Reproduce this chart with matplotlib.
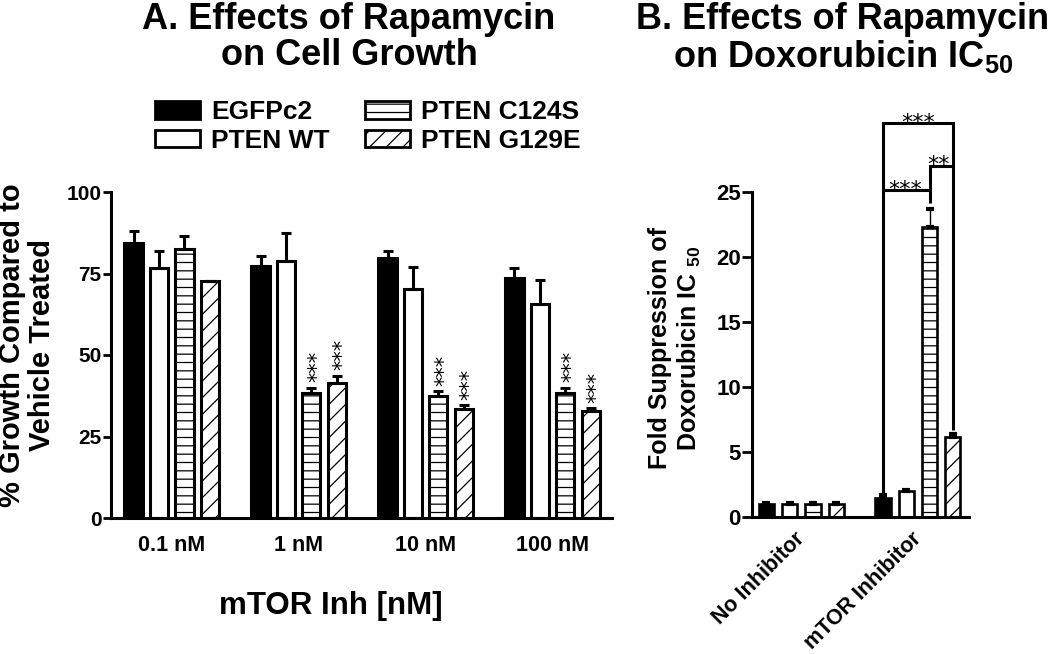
import numpy as np
import matplotlib
matplotlib.use('Agg')
import matplotlib.pyplot as plt
from matplotlib.patches import Patch

plt.rcParams['font.family'] = ['Liberation Sans', 'DejaVu Sans']
plt.rcParams['font.weight'] = 'bold'
plt.rcParams['axes.labelweight'] = 'bold'
plt.rcParams['mathtext.fontset'] = 'custom'
plt.rcParams['mathtext.rm'] = 'Liberation Sans:bold'
plt.rcParams['mathtext.it'] = 'Liberation Sans:bold'
plt.rcParams['mathtext.bf'] = 'Liberation Sans:bold'
plt.rcParams['hatch.linewidth'] = 0.9

# panel A data
concentrations = ['0.1 nM', '1 nM', '10 nM', '100 nM']
series = ['EGFPc2', 'PTEN WT', 'PTEN C124S', 'PTEN G129E']
growth_egfp = [84.5, 77.4, 79.7, 73.5]
growth_wt = [76.7, 78.8, 70.2, 65.6]
growth_c124s = [82.5, 38.2, 37.4, 38.4]
growth_g129e = [72.6, 41.3, 33.5, 32.8]
growth_err_egfp = [3.6, 3.0, 2.2, 3.1]
growth_err_wt = [5.1, 8.7, 6.7, 7.4]
growth_err_c124s = [4.0, 1.7, 1.5, 1.5]
growth_err_g129e = [0.0, 2.3, 1.1, 0.9]
growth_sig_c124s = ['', '***', '***', '***']
growth_sig_g129e = ['', '***', '***', '***']

# panel B data
conditions = ['No Inhibitor', 'mTOR Inhibitor']
fold_egfp = [0.95, 1.45]
fold_wt = [1.0, 1.95]
fold_c124s = [1.0, 22.3]
fold_g129e = [1.0, 6.1]
fold_err_egfp = [0.08, 0.2]
fold_err_wt = [0.05, 0.1]
fold_err_c124s = [0.05, 1.4]
fold_err_g129e = [0.05, 0.3]

styles = [dict(facecolor='black'),
          dict(facecolor='white'),
          dict(facecolor='white', hatch='--'),
          dict(facecolor='white', hatch='//')]

W, H = 1050, 654
fig = plt.figure(figsize=(W / 100, H / 100), dpi=100)


def px_axes(l, t, r, b):
    return fig.add_axes([l / W, 1 - b / H, (r - l) / W, (b - t) / H])


def style_axes(ax):
    for s in ['top', 'right']:
        ax.spines[s].set_visible(False)
    for s in ['left', 'bottom']:
        ax.spines[s].set_linewidth(2.2)


# ---------------- panel A ----------------
axA = px_axes(111, 192, 612, 518)
style_axes(axA)
group_gap = 5
vals_A = [growth_egfp, growth_wt, growth_c124s, growth_g129e]
errs_A = [growth_err_egfp, growth_err_wt, growth_err_c124s, growth_err_g129e]
sigs_A = [None, None, growth_sig_c124s, growth_sig_g129e]
groups = np.arange(len(concentrations)) * group_gap
for i, (v, e, st) in enumerate(zip(vals_A, errs_A, styles)):
    x = groups + i
    axA.bar(x, v, width=0.72, edgecolor='black', linewidth=2.2, **st)
    axA.errorbar(x, v, yerr=[np.zeros(len(v)), e], fmt='none', ecolor='black',
                 elinewidth=2.2, capsize=3.3, capthick=2.2)
    if sigs_A[i] is not None:
        for xx, vv, ee, s in zip(x, v, e, sigs_A[i]):
            if s:
                axA.annotate(s, xy=(xx, vv + ee), xytext=(8.6, 4),
                             textcoords='offset points', rotation=90,
                             rotation_mode='anchor', ha='left', va='baseline',
                             fontsize=15, family='DejaVu Sans',
                             fontweight='normal')
axA.set_xlim(-0.89, 18.84)
axA.set_ylim(0, 100)
axA.set_yticks([0, 25, 50, 75, 100])
axA.set_xticks(groups + 1.5, concentrations)
axA.tick_params(axis='y', length=6, width=2, pad=1, labelsize=15)
axA.tick_params(axis='x', length=0, pad=12, labelsize=15.5)
axA.set_ylabel('% Growth Compared to\nVehicle Treated', fontsize=21,
               linespacing=1.08)
axA.yaxis.set_label_coords(-0.11, 0.53)
axA.set_xlabel('mTOR Inh [nM]', fontsize=22.5)
axA.xaxis.set_label_coords(0.439, -0.225)

handles = [Patch(edgecolor='black', linewidth=2, **st) for st in styles]
fig.legend(handles, series, ncol=2, loc='upper left',
           bbox_to_anchor=(155 / W, 1 - 100 / H), frameon=False,
           borderpad=0, borderaxespad=0, handlelength=1.7, handleheight=0.65,
           handletextpad=0.42, columnspacing=1.36, labelspacing=0.18,
           prop=dict(size=19, weight='bold'))

fig.text(349 / W, 1 - 2 / H, 'A. Effects of Rapamycin\non Cell Growth',
         ha='center', va='top', fontsize=26, linespacing=1.05)
fig.text(843 / W, 1 - 2 / H,
         'B. Effects of Rapamycin\non Doxorubicin IC$_{50}$',
         ha='center', va='top', fontsize=26, linespacing=1.05)

# ---------------- panel B ----------------
axB = px_axes(752, 191.7, 969, 516.7)
style_axes(axB)
vals_B = [fold_egfp, fold_wt, fold_c124s, fold_g129e]
errs_B = [fold_err_egfp, fold_err_wt, fold_err_c124s, fold_err_g129e]
groupsB = np.arange(len(conditions)) * group_gap
for i, (v, e, st) in enumerate(zip(vals_B, errs_B, styles)):
    x = groupsB + i
    axB.bar(x, v, width=0.65, edgecolor='black', linewidth=1.9, **st)
    axB.errorbar(x, v, yerr=[np.zeros(len(v)), e], fmt='none', ecolor='black',
                 elinewidth=1, capsize=2.7, capthick=3)
axB.set_xlim(-0.62, 8.69)
axB.set_ylim(0, 25)
axB.set_yticks([0, 5, 10, 15, 20, 25])
axB.set_xticks(groupsB + 1.5, conditions, rotation=45, ha='right',
               va='center', rotation_mode='anchor')
axB.tick_params(axis='y', length=7, width=2, pad=1, labelsize=16)
axB.tick_params(axis='x', length=0, pad=14, labelsize=15.5)
axB.set_ylabel('Fold Suppression of\nDoxorubicin IC $_{50}$', fontsize=18,
               linespacing=1.2)
axB.yaxis.set_label_coords(-0.226, 0.52)

# significance brackets (mTOR group)
g = groupsB[1]
top = [v[1] + e[1] for v, e in zip(vals_B, errs_B)]
br = dict(color='black', lw=2.2, clip_on=False, solid_joinstyle='miter',
          solid_capstyle='butt')
outer_y, inner_y, pair_y = 30.26, 25.1, 27.0
axB.plot([g, g, g + 3, g + 3], [top[0], outer_y, outer_y, top[3] + 0.3], **br)
axB.plot([g, g + 2, g + 2], [inner_y, inner_y, top[2] + 0.4], **br)
axB.plot([g + 2, g + 2, g + 3], [inner_y, pair_y, pair_y], **br)
star = dict(textcoords='offset points', ha='center', va='baseline',
            fontsize=16, family='DejaVu Sans', fontweight='normal',
            annotation_clip=False)
axB.annotate('***', xy=(g + 1.5, outer_y), xytext=(0, -4), **star)
axB.annotate('***', xy=(g + 0.95, inner_y), xytext=(0, -4), **star)
axB.annotate('**', xy=(g + 2.38, pair_y), xytext=(0, -4), **star)

fig.savefig('out.png', dpi=100)
